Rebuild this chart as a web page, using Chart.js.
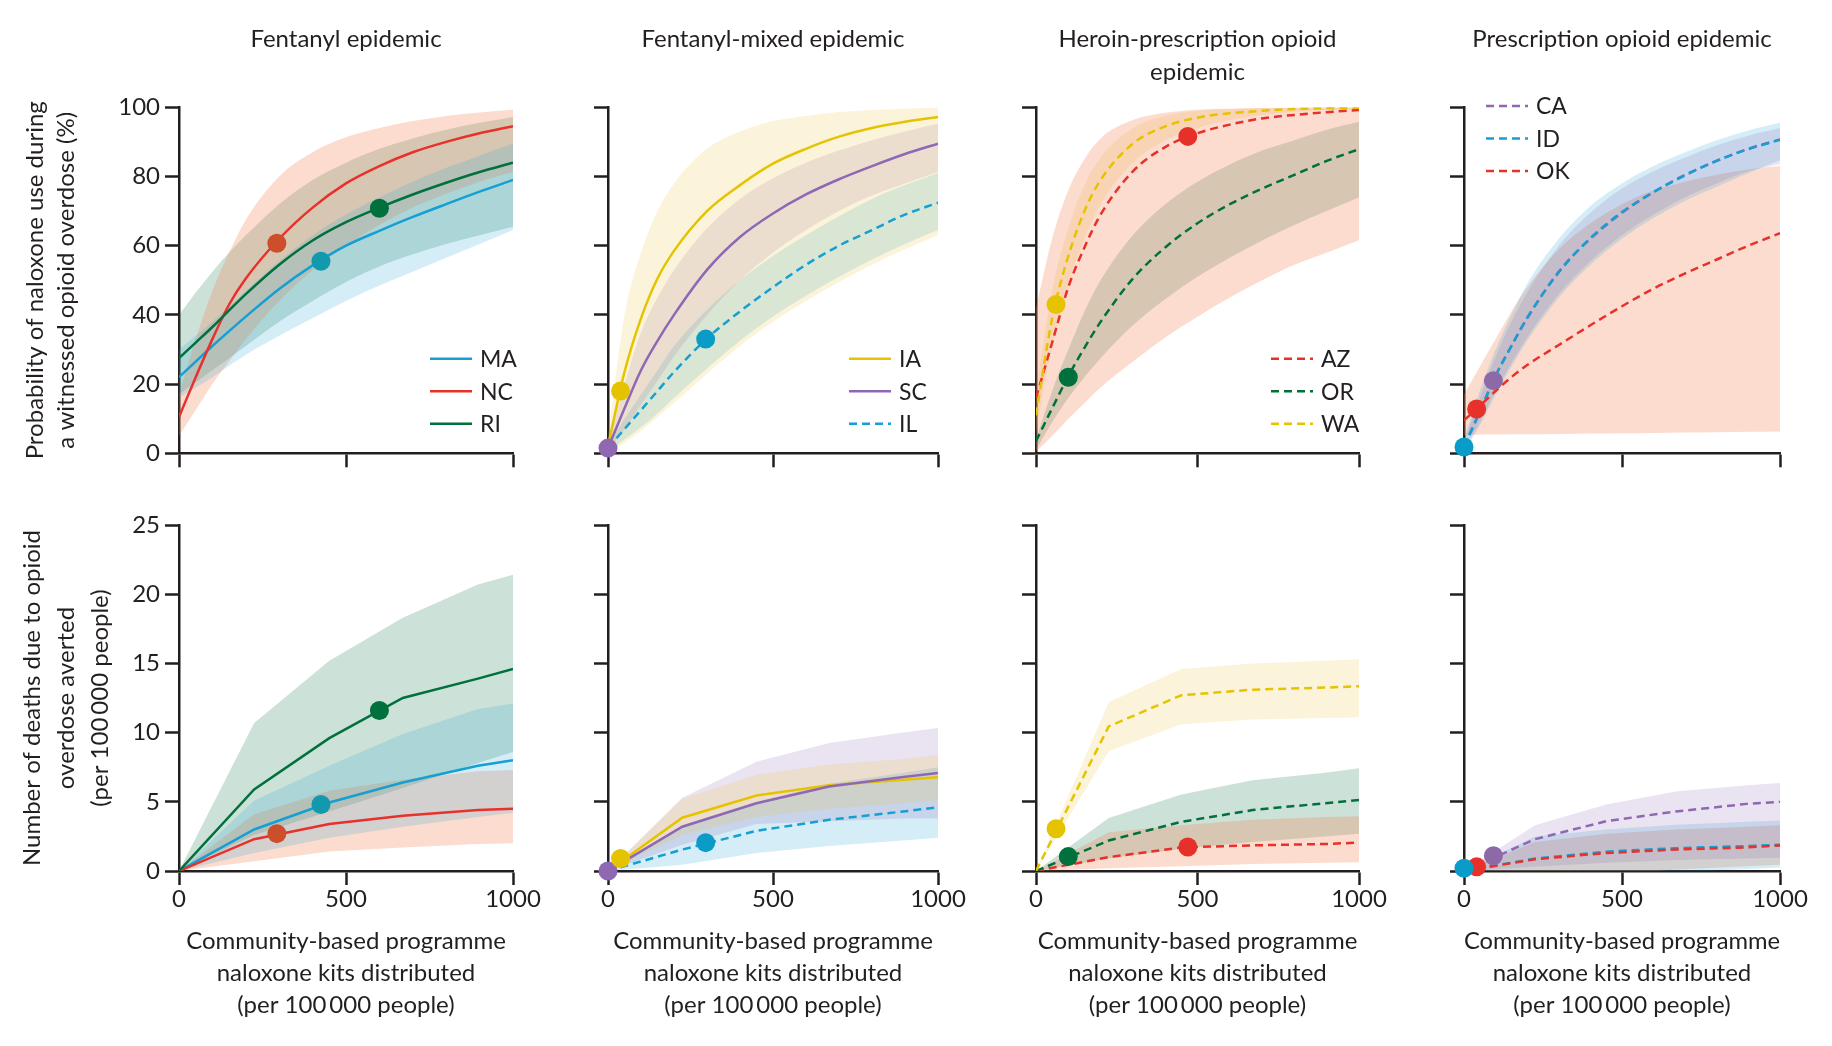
<!DOCTYPE html>
<html><head><meta charset="utf-8">
<script src="https://cdn.jsdelivr.net/npm/chart.js@4.4.1/dist/chart.umd.min.js"></script>
<style>
html,body{margin:0;padding:0;background:#fff;}
body{width:1832px;height:1046px;position:relative;overflow:hidden;}
canvas{position:absolute;}
</style></head><body>
<script>
// ---------------- DATA ----------------
const KITS_TOP = [0, 50, 100, 150, 200, 300, 400, 500, 600, 700, 800, 900, 1000];
const KITS_BOTTOM = [0, 225, 450, 670, 895, 1000];
const KIT_TICKS = [0, 500, 1000];
const PROB_TICKS = [0, 20, 40, 60, 80, 100];
const DEATH_TICKS = [0, 5, 10, 15, 20, 25];

const PANEL_TITLES = [['Fentanyl epidemic'], ['Fentanyl-mixed epidemic'], ['Heroin-prescription opioid', 'epidemic'], ['Prescription opioid epidemic']];
const PANEL_STATES = [['MA', 'NC', 'RI'], ['IA', 'SC', 'IL'], ['AZ', 'OR', 'WA'], ['CA', 'ID', 'OK']];
const PROB_TITLE = ['Probability of naloxone use during', 'a witnessed opioid overdose (%)'];
const DEATH_TITLE = ['Number of deaths due to opioid', 'overdose averted', '(per 100\u2009000 people)'];
const KIT_TITLE = ['Community-based programme', 'naloxone kits distributed', '(per 100\u2009000 people)'];

// Probability of naloxone use (%), top row
const MA_P    = [22, 26.5, 31, 35.3, 39.5, 47.5, 54.3, 60, 64.3, 68.3, 72, 75.6, 79];
const MA_P_HI = [30, 34, 38, 42.5, 47, 55.5, 63, 69, 74, 78.5, 82.5, 86, 89.5];
const MA_P_LO = [16, 19, 22, 25.3, 28.5, 34, 39, 44, 48.5, 52.5, 56.5, 60.5, 64.5];
const NC_P    = [10.5, 22, 33, 43, 50.5, 62, 71, 78, 83, 87, 90, 92.5, 94.5];
const NC_P_HI = [17, 33, 47, 58, 67.5, 80, 87, 91.3, 94, 96, 97.5, 98.5, 99.3];
const NC_P_LO = [5, 12.5, 20, 26.5, 33, 44, 53, 60, 66, 71, 75, 78.5, 81.3];
const RI_P    = [27.5, 32, 36.5, 41.3, 46, 54.5, 61.5, 66.8, 71, 74.8, 78.2, 81.3, 84];
const RI_P_HI = [40, 46.5, 52.5, 58, 63, 72, 79, 84, 88, 91, 93.5, 95.5, 97.2];
const RI_P_LO = [17, 20.5, 24, 27.5, 31, 38, 44, 49.5, 54, 57.5, 60.5, 63, 65.5];

const IA_P    = [2, 23.5, 39, 50.5, 58.5, 70, 77.5, 83.7, 88, 91.5, 94, 95.8, 97.2];
const IA_P_HI = [5, 40, 58, 70, 78, 88, 93, 96, 97.5, 98.6, 99.2, 99.6, 99.9];
const IA_P_LO = [0.2, 3, 6.5, 10.5, 14.5, 23, 31, 38, 44, 49.5, 54.5, 59, 63];
const SC_P    = [1.5, 13, 24, 32.5, 40, 53, 62.5, 69.3, 74.8, 79.2, 83, 86.5, 89.5];
const SC_P_HI = [3, 20, 35, 45, 53, 65, 73.5, 79.5, 84, 87.5, 90.5, 93, 95.3];
const SC_P_LO = [0.5, 7, 14, 21, 28, 40, 50, 58, 64.5, 70, 74.5, 78, 81.3];
const IL_P    = [1.5, 7, 12.5, 18, 23.5, 33.2, 41, 48, 54.5, 60, 64.5, 69, 72.4];
const IL_P_HI = [2.5, 10, 17, 24, 31, 41.5, 50, 57, 63, 68.5, 73.5, 77.5, 81];
const IL_P_LO = [0.5, 4, 7.5, 11.5, 16, 24.5, 32.5, 39.5, 45.5, 51, 56, 60.5, 64.5];

const AZ_P    = [16, 32, 48, 59.5, 69, 81.5, 88.5, 92.5, 95, 96.8, 97.8, 98.6, 99.2];
const AZ_P_HI = [42, 62, 76, 85, 91, 96.3, 98.4, 99.3, 99.6, 99.8, 99.9, 100, 100];
const AZ_P_LO = [0.5, 5, 10, 14.5, 19, 26.5, 33.5, 39.5, 45, 50, 54.5, 58, 61.6];
const OR_P    = [3.5, 13, 22.3, 30.5, 38, 50.5, 59.5, 66.5, 72, 76.5, 80.5, 84.5, 87.9];
const OR_P_HI = [4, 18, 30, 41, 50, 63, 72, 78.5, 83.5, 87.5, 90.5, 93.5, 95.8];
const OR_P_LO = [1, 9, 16, 22, 27.5, 37, 44.5, 51, 56.5, 61.5, 66, 70, 74];
const WA_P    = [11, 39, 57, 70, 79, 89.5, 94.5, 97, 98.3, 99, 99.5, 99.7, 99.9];
const WA_P_HI = [18, 47, 65, 77.5, 85.5, 94, 97.5, 99, 99.5, 99.8, 99.9, 100, 100];
const WA_P_LO = [6, 31, 49, 62, 72, 84, 90.5, 94, 96.3, 97.8, 98.7, 99.2, 99.5];

const CA_P    = [2, 12, 22.5, 31, 39, 52.5, 62, 69.5, 75.5, 80.5, 84.5, 88, 90.7];
const CA_P_HI = [3.5, 16, 28, 38, 46.5, 60, 69.5, 76.5, 81.5, 85.5, 89, 91.8, 94];
const CA_P_LO = [1, 9, 18, 26, 33.5, 46, 55.5, 63, 69, 74, 78, 81.5, 83.5];
const ID_P    = [1.8, 12, 22.3, 31, 39.2, 52.3, 62.2, 69.7, 75.5, 80.3, 84.6, 87.9, 90.6];
const ID_P_HI = [4, 18, 30, 40, 49, 62, 71.5, 78, 83, 87, 90.5, 93.3, 95.5];
const ID_P_LO = [0.5, 8, 17, 25, 32.5, 45, 54.5, 62, 68, 73, 77, 81, 84.7];
const OK_P    = [9.5, 13.7, 18, 22, 25.5, 31.3, 37, 42.5, 47.6, 52, 56, 60, 63.6];
const OK_P_HI = [17, 25, 33, 41, 48, 59, 66.5, 72, 76, 78.5, 80.5, 82, 83];
const OK_P_LO = [5.3, 5.4, 5.4, 5.5, 5.5, 5.6, 5.7, 5.8, 5.9, 6, 6.1, 6.2, 6.3];

// Deaths averted (per 100 000), bottom row
const MA_D    = [0, 3.0, 4.95, 6.4, 7.6, 8.0];
const MA_D_HI = [0, 5.1, 7.6, 9.9, 11.7, 12.1];
const MA_D_LO = [0, 1.3, 2.4, 3.2, 3.9, 4.2];
const NC_D    = [0, 2.3, 3.4, 4.0, 4.4, 4.5];
const NC_D_HI = [0, 4.1, 5.8, 6.6, 7.2, 7.3];
const NC_D_LO = [0, 0.7, 1.4, 1.7, 1.95, 2.0];
const RI_D    = [0, 5.9, 9.6, 12.5, 13.9, 14.6];
const RI_D_HI = [0, 10.7, 15.2, 18.3, 20.7, 21.4];
const RI_D_LO = [0, 2.6, 4.3, 6.0, 7.8, 8.6];

const IA_D    = [0, 3.85, 5.45, 6.2, 6.6, 6.77];
const IA_D_HI = [0, 5.2, 6.95, 7.7, 8.1, 8.4];
const IA_D_LO = [0, 2.6, 3.9, 4.5, 4.9, 5.1];
const SC_D    = [0, 3.2, 4.9, 6.1, 6.8, 7.08];
const SC_D_HI = [0, 5.3, 7.9, 9.25, 10.0, 10.34];
const SC_D_LO = [0, 1.9, 3.4, 3.6, 3.8, 3.8];
const IL_D    = [0, 1.55, 2.9, 3.7, 4.3, 4.6];
const IL_D_HI = [0, 3.3, 5.0, 6.3, 7.1, 7.5];
const IL_D_LO = [0, 0.45, 1.3, 1.8, 2.2, 2.4];

const AZ_D    = [0, 1.0, 1.7, 1.85, 1.95, 2.05];
const AZ_D_HI = [0, 2.8, 3.3, 3.7, 3.9, 3.96];
const AZ_D_LO = [0, 0.2, 0.35, 0.5, 0.6, 0.63];
const OR_D    = [0, 2.2, 3.55, 4.4, 4.9, 5.13];
const OR_D_HI = [0, 3.83, 5.52, 6.56, 7.1, 7.42];
const OR_D_LO = [0, 0.9, 1.6, 2.1, 2.5, 2.7];
const WA_D    = [0, 10.45, 12.7, 13.1, 13.25, 13.35];
const WA_D_HI = [0, 12.2, 14.6, 15.0, 15.2, 15.3];
const WA_D_LO = [0, 8.65, 10.6, 10.95, 11.05, 11.1];

const CA_D    = [0, 2.3, 3.6, 4.3, 4.85, 5.0];
const CA_D_HI = [0, 3.3, 4.8, 5.75, 6.2, 6.35];
const CA_D_LO = [0, 0.3, 0.6, 0.8, 0.9, 0.95];
const ID_D    = [0, 0.9, 1.4, 1.65, 1.8, 1.9];
const ID_D_HI = [0, 2.5, 3.0, 3.35, 3.55, 3.65];
const ID_D_LO = [0, -0.7, -0.5, -0.1, 0.15, 0.25];
const OK_D    = [0, 0.85, 1.3, 1.55, 1.7, 1.85];
const OK_D_HI = [0, 2.1, 2.7, 3.0, 3.2, 3.3];
const OK_D_LO = [0, -0.6, -0.3, 0.1, 0.35, 0.45];

// Current-distribution markers
const STATES      = ['MA', 'NC', 'RI', 'IA', 'SC', 'IL', 'AZ', 'OR', 'WA', 'CA', 'ID', 'OK'];
const MARK_KITS   = [425, 293, 600, 38, 0, 296, 470, 100, 62, 93, 0, 40];
const MARK_PROB   = [55.5, 60.7, 70.8, 18, 1.5, 33, 91.6, 22, 43, 21, 1.8, 12.8];
const MARK_DEATHS = [4.8, 2.7, 11.6, 0.9, 0, 2.05, 1.74, 1.04, 3.05, 1.1, 0.2, 0.3];

// ---------------- TABLES built from the arrays ----------------
const SERIES = {
  MA: [[MA_P, MA_P_HI, MA_P_LO], [MA_D, MA_D_HI, MA_D_LO]],
  NC: [[NC_P, NC_P_HI, NC_P_LO], [NC_D, NC_D_HI, NC_D_LO]],
  RI: [[RI_P, RI_P_HI, RI_P_LO], [RI_D, RI_D_HI, RI_D_LO]],
  IA: [[IA_P, IA_P_HI, IA_P_LO], [IA_D, IA_D_HI, IA_D_LO]],
  SC: [[SC_P, SC_P_HI, SC_P_LO], [SC_D, SC_D_HI, SC_D_LO]],
  IL: [[IL_P, IL_P_HI, IL_P_LO], [IL_D, IL_D_HI, IL_D_LO]],
  AZ: [[AZ_P, AZ_P_HI, AZ_P_LO], [AZ_D, AZ_D_HI, AZ_D_LO]],
  OR: [[OR_P, OR_P_HI, OR_P_LO], [OR_D, OR_D_HI, OR_D_LO]],
  WA: [[WA_P, WA_P_HI, WA_P_LO], [WA_D, WA_D_HI, WA_D_LO]],
  CA: [[CA_P, CA_P_HI, CA_P_LO], [CA_D, CA_D_HI, CA_D_LO]],
  ID: [[ID_P, ID_P_HI, ID_P_LO], [ID_D, ID_D_HI, ID_D_LO]],
  OK: [[OK_P, OK_P_HI, OK_P_LO], [OK_D, OK_D_HI, OK_D_LO]]
};

// ---------------- STYLE ----------------
const INK = '#231f20';
const FONT = 'Lato, "Noto Sans", sans-serif';
const CYAN = '#169fd2', RED = '#e8312a', GREEN = '#00703c', YELLOW = '#e6c300', PURPLE = '#8e68b4';
const B_CYAN = 'rgba(30,160,210,0.19)', B_PEACH = 'rgba(240,130,80,0.28)', B_GREEN = 'rgba(0,112,60,0.2)',
      B_YELLOW = 'rgba(235,200,70,0.2)', B_PURPLE = 'rgba(140,100,180,0.18)';
const STYLE = {
  MA: {c: CYAN, b: B_CYAN, m: '#1399ad', dash: []},
  NC: {c: RED, b: B_PEACH, m: '#cc4e2b', dash: []},
  RI: {c: GREEN, b: B_GREEN, m: GREEN, dash: []},
  IA: {c: YELLOW, b: B_YELLOW, m: '#e6c300', dash: []},
  SC: {c: PURPLE, b: B_PURPLE, m: '#8e68b0', dash: []},
  IL: {c: CYAN, b: B_CYAN, m: '#0a9cc6', dash: [8, 5]},
  AZ: {c: RED, b: B_PEACH, m: '#e6312a', dash: [8, 5]},
  OR: {c: GREEN, b: B_GREEN, m: GREEN, dash: [8, 5]},
  WA: {c: YELLOW, b: B_YELLOW, m: '#e6c300', dash: [8, 5]},
  CA: {c: PURPLE, b: B_PURPLE, m: '#8c6aa8', dash: [8, 5]},
  ID: {c: CYAN, b: B_CYAN, m: '#0a9cc8', dash: [8, 5]},
  OK: {c: RED, b: B_PEACH, m: '#e8312a', dash: [8, 5]}
};

// geometry of the plot areas (pixels)
const COL_LEFT = [179, 608, 1036, 1464];
const COL_W = [334, 330, 323, 316];
const ROW_CANVAS = [{top: 0, h: 474, plotTop: 107.3, plotBottom: 453.3}, {top: 480, h: 566, plotTop: 525, plotBottom: 871}];
const LEGEND_POS = [{x: 251, y: 251.4}, {x: 241, y: 251.4}, {x: 235, y: 251.4}, {x: 22, y: -1.3}];
const TXT = 24;

const inlineLegend = {
  id: 'inlineLegend',
  afterDatasetsDraw(chart, args, opts) {
    if (!opts || !opts.items || !opts.items.length) return;
    const ctx = chart.ctx, a = chart.chartArea;
    opts.items.forEach((it, i) => {
      const y = a.top + opts.y + i * opts.gap;
      const x = a.left + opts.x;
      ctx.save();
      ctx.strokeStyle = it.color; ctx.lineWidth = 2.5; ctx.setLineDash(it.dash);
      ctx.beginPath(); ctx.moveTo(x, y); ctx.lineTo(x + opts.len, y); ctx.stroke();
      ctx.setLineDash([]);
      ctx.fillStyle = INK; ctx.font = '23px ' + FONT; ctx.textBaseline = 'middle'; ctx.textAlign = 'left';
      ctx.fillText(it.label, x + opts.textX, y + 1);
      ctx.restore();
    });
  }
};

function buildChart(col, row) {
  const rc = ROW_CANVAS[row];
  const yW = col === 0 ? COL_LEFT[0] : 40;
  const padR = 40;
  const left = COL_LEFT[col] - yW;
  const width = yW + COL_W[col] + padR;
  const cv = document.createElement('canvas');
  cv.width = width; cv.height = rc.h;
  cv.style.left = left + 'px'; cv.style.top = rc.top + 'px';
  cv.style.width = width + 'px'; cv.style.height = rc.h + 'px';
  document.body.appendChild(cv);

  const xs = row === 0 ? KITS_TOP : KITS_BOTTOM;
  const ticks = row === 0 ? PROB_TICKS : DEATH_TICKS;
  const pts = arr => xs.map((x, i) => ({x: x, y: arr[i]}));
  const smooth = row === 0;
  const datasets = [];
  const states = PANEL_STATES[col];
  states.forEach((s, k) => {
    const st = STYLE[s];
    const [line, hi, lo] = SERIES[s][row];
    datasets.push({label: s + ' upper', data: pts(hi), borderColor: 'rgba(0,0,0,0)', borderWidth: 0, pointRadius: 0,
      backgroundColor: st.b, fill: '+1', order: 10 + k, tension: 0, cubicInterpolationMode: smooth ? 'monotone' : 'default'});
    datasets.push({label: s + ' lower', data: pts(lo), borderColor: 'rgba(0,0,0,0)', borderWidth: 0, pointRadius: 0,
      fill: false, order: 10 + k, tension: 0, cubicInterpolationMode: smooth ? 'monotone' : 'default'});
  });
  states.forEach((s, k) => {
    const st = STYLE[s];
    const line = SERIES[s][row][0];
    datasets.push({label: s, data: pts(line), borderColor: st.c, borderWidth: 2.5, borderDash: st.dash, pointRadius: 0,
      fill: false, order: 5 - k, tension: 0, cubicInterpolationMode: smooth ? 'monotone' : 'default'});
  });
  states.forEach((s, k) => {
    const st = STYLE[s];
    const i = STATES.indexOf(s);
    datasets.push({label: s + ' current', data: [{x: MARK_KITS[i], y: row === 0 ? MARK_PROB[i] : MARK_DEATHS[i]}],
      showLine: false, pointRadius: 9.5, pointHoverRadius: 9.5, pointBackgroundColor: st.m, pointBorderColor: st.m,
      pointBorderWidth: 0, order: 0, clip: false});
  });

  const titleLines = PANEL_TITLES[col];
  const titleOpts = row === 0 ? {
    display: true, text: titleLines, fullSize: false, color: INK,
    font: {family: FONT, size: TXT, weight: 'normal', lineHeight: 32.56 / TXT},
    padding: {top: 23.4, bottom: titleLines.length === 1 ? 51.3 : 18.8}
  } : {display: false};

  const legendItems = row === 0 ? states.map(s => ({label: s, color: STYLE[s].c, dash: STYLE[s].dash})) : [];

  const showY = col === 0;
  const showX = row === 1;

  return new Chart(cv, {
    type: 'line',
    data: {datasets: datasets},
    plugins: [inlineLegend],
    options: {
      responsive: false, animation: false, events: [],
      layout: {padding: {left: 0, right: padR, top: row === 0 ? 0 : rc.plotTop - rc.top, bottom: 0}},
      plugins: {
        legend: {display: false}, tooltip: {enabled: false},
        title: titleOpts,
        inlineLegend: {items: legendItems, x: LEGEND_POS[col].x, y: LEGEND_POS[col].y, gap: 32.5, len: 42, textX: 50}
      },
      scales: {
        x: {
          type: 'linear', min: KIT_TICKS[0], max: KIT_TICKS[KIT_TICKS.length - 1],
          ticks: {stepSize: KIT_TICKS[1] - KIT_TICKS[0], display: showX, padding: 0, color: INK, maxRotation: 0, autoSkip: false,
            font: {family: FONT, size: TXT}, callback: v => String(v)},
          grid: {display: true, drawOnChartArea: false, drawTicks: true, tickLength: 14, tickWidth: 2.5, tickColor: INK},
          border: {display: true, color: INK, width: 2.5},
          title: showX ? {display: true, text: KIT_TITLE, color: INK, font: {family: FONT, size: TXT, lineHeight: 31.9 / TXT},
            padding: {top: 0, bottom: 25}} : {display: false},
          afterFit: s => { s.height = rc.h - (rc.plotBottom - rc.top); }
        },
        y: {
          type: 'linear', min: ticks[0], max: ticks[ticks.length - 1],
          ticks: {stepSize: ticks[1] - ticks[0], display: showY, padding: 5, color: INK, font: {family: FONT, size: TXT},
            callback: v => String(v)},
          grid: {display: true, drawOnChartArea: false, drawTicks: true, tickLength: 14, tickWidth: 2.5, tickColor: INK},
          border: {display: true, color: INK, width: 2.5},
          title: showY ? (row === 0 ?
            {display: true, text: PROB_TITLE, color: INK, font: {family: FONT, size: TXT, lineHeight: 31.7 / TXT}, padding: {top: 19.2, bottom: 0}} :
            {display: true, text: DEATH_TITLE, color: INK, font: {family: FONT, size: TXT, lineHeight: 33.9 / TXT}, padding: {top: 15.8, bottom: 0}})
            : {display: false},
          afterFit: s => { s.width = yW; }
        }
      }
    }
  });
}

function drawAll() {
  Chart.defaults.font.family = FONT;
  Chart.defaults.color = INK;
  for (let r = 0; r < 2; r++) for (let c = 0; c < 4; c++) buildChart(c, r);
}
const fontReady = (document.fonts && document.fonts.load) ? Promise.race([document.fonts.load('24px Lato'), new Promise(r => setTimeout(r, 800))]) : Promise.resolve();
fontReady.then(drawAll, drawAll);
</script>
</body></html>
